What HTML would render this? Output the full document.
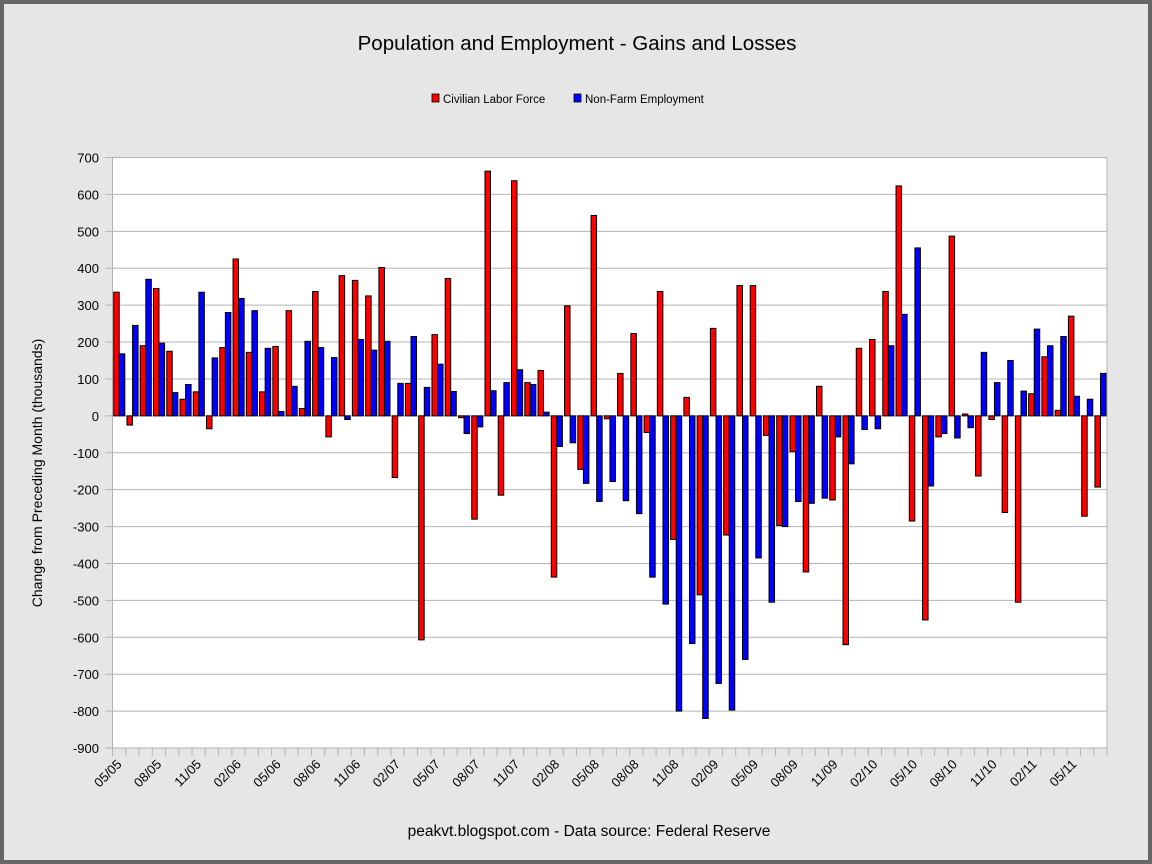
<!DOCTYPE html>
<html><head><meta charset="utf-8"><style>
html,body{margin:0;padding:0;}
body{width:1152px;height:864px;overflow:hidden;background:#666;}
svg{display:block;font-family:"Liberation Sans",sans-serif;}
</style></head><body>
<svg id="chart" width="1152" height="864" viewBox="0 0 1152 864">
<rect x="4" y="4" width="1144" height="856" fill="#e6e6e6"/>
<text x="577" y="50" font-size="20.5" text-anchor="middle" fill="#000">Population and Employment - Gains and Losses</text>
<g>
<rect x="432" y="94" width="7" height="8" fill="#f00" stroke="#000" stroke-width="0.8"/>
<text x="443" y="103" font-size="11.5">Civilian Labor Force</text>
<rect x="574" y="94" width="7" height="8" fill="#00f" stroke="#000" stroke-width="0.8"/>
<text x="585" y="103" font-size="11.5">Non-Farm Employment</text>
</g>
<rect x="112.5" y="157.5" width="994.5" height="590.5" fill="#fff"/>
<g id="grid"></g>
<g id="bars"></g>
<g id="axes"></g>
<text transform="translate(42,473) rotate(-90)" font-size="14" text-anchor="middle">Change from Preceding Month (thousands)</text>
<text x="589" y="836" font-size="15.5" text-anchor="middle">peakvt.blogspot.com - Data source: Federal Reserve</text>
</svg>
<script>
const laborForce=[335,-25,190,345,175,45,65,-35,185,425,172,65,188,285,20,337,-57,380,367,325,402,-167,88,-607,220,372,-5,-280,663,-215,637,90,123,-437,298,-145,543,-8,115,223,-45,337,-335,50,-485,237,-323,353,353,-53,-297,-97,-423,80,-228,-620,183,207,337,623,-285,-553,-57,487,5,-163,-10,-262,-505,60,160,15,270,-272,-193];
const employment=[168,245,370,197,63,85,335,157,280,318,285,183,12,80,202,185,158,-10,207,178,202,88,215,77,140,66,-48,-30,68,90,125,85,10,-83,-73,-183,-232,-178,-230,-265,-437,-510,-800,-617,-820,-725,-797,-660,-385,-505,-300,-232,-237,-223,-57,-130,-37,-35,190,275,455,-190,-48,-60,-32,172,90,150,67,235,190,215,53,45,115];
const startMonth=5, startYear=2005;
const yTicks=[700,600,500,400,300,200,100,0,-100,-200,-300,-400,-500,-600,-700,-800,-900];
const NS="http://www.w3.org/2000/svg";
const L=112.5,R=1107,T=157.5,B=748,yMax=700,yMin=-900;
const n=laborForce.length, gw=(R-L)/n;
function y(v){return T+(yMax-v)/(yMax-yMin)*(B-T);}
function x(i){return L+i*gw;}
function mk(tag,a,parent){const e=document.createElementNS(NS,tag);for(const k in a)e.setAttribute(k,a[k]);parent.appendChild(e);return e;}
const grid=document.getElementById('grid'),bars=document.getElementById('bars'),axes=document.getElementById('axes');
yTicks.forEach(v=>{
  const ln=mk('line',{x1:105,x2:R,y1:y(v),y2:y(v),stroke:'#b3b3b3','stroke-width':1},grid);
  
  
  const t=mk('text',{x:99,y:y(v)+5,'font-size':13,'text-anchor':'end'},axes);
  t.textContent=v;
  
  
});
const ax=mk('line',{x1:L,x2:L,y1:T,y2:B+8,stroke:'#b3b3b3','stroke-width':1},axes);


const axb=mk('line',{x1:L,x2:R,y1:B,y2:B,stroke:'#b3b3b3','stroke-width':1},axes);


const axr=mk('line',{x1:R,x2:R,y1:T,y2:B+8,stroke:'#b3b3b3','stroke-width':1},axes);


for(let i=0;i<n;i++){
  const tk=mk('line',{x1:x(i),x2:x(i),y1:B,y2:B+8,stroke:'#b3b3b3','stroke-width':1},axes);
  
  
  const bw=5.5;
  [[laborForce[i],'#f00',1.2,'bar-labor'],[employment[i],'#00f',6.8,'bar-employment']].forEach(([v,c,off,nm])=>{
    const y0=y(0),yv=y(v);
    const r=mk('rect',{x:x(i)+off,y:Math.min(y0,yv),width:bw,height:Math.max(Math.abs(yv-y0),0.8),fill:c,stroke:'#000','stroke-width':1},bars);
    
    
  });
  if(i%3===0){
    const m=(startMonth-1+i)%12+1, yr=startYear+Math.floor((startMonth-1+i)/12);
    const lab=String(m).padStart(2,'0')+'/'+String(yr%100).padStart(2,'0');
    const tx=x(i)+10, ty=765;
    const t=mk('text',{x:tx,y:ty,'font-size':13,'text-anchor':'end',transform:`rotate(-45 ${tx} ${ty})`},axes);
    t.textContent=lab;
    
    
  }
}
</script>
</body></html>
